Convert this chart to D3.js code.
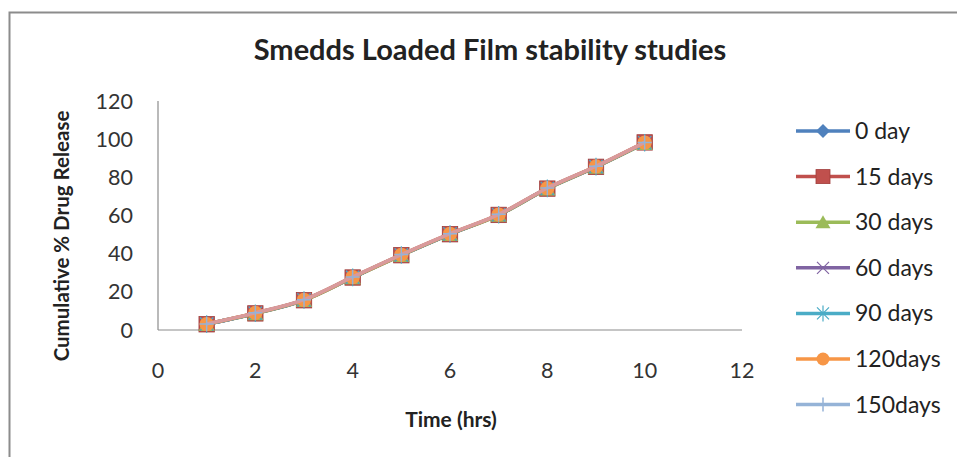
<!DOCTYPE html>
<html>
<head>
<meta charset="utf-8">
<script src="https://cdn.jsdelivr.net/npm/d3@7"></script>
<style>
  html, body { margin: 0; padding: 0; background: #fff; }
  svg { display: block; }
  text { font-family: Lato, "Liberation Sans", sans-serif; }
</style>
</head>
<body>
<svg id="chart" width="957" height="457"></svg>
<script>
// Sampling times (hrs)
const hours = [1, 2, 3, 4, 5, 6, 7, 8, 9, 10];

// Cumulative % drug release at each storage interval
const release0 = [3.1, 8.8, 15.8, 27.6, 39.3, 50.3, 60.4, 74.2, 85.6, 98.0];
const release15 = [3.0, 8.7, 15.6, 27.5, 39.2, 50.2, 60.3, 74.1, 85.5, 98.3];
const release30 = [3.0, 8.6, 15.5, 27.4, 39.1, 50.1, 60.2, 74.0, 85.4, 97.8];
const release60 = [3.1, 8.8, 15.7, 27.6, 39.3, 50.3, 60.4, 74.2, 85.6, 98.1];
const release90 = [3.1, 8.8, 15.7, 27.6, 39.3, 50.3, 60.4, 74.2, 85.6, 98.1];
const release120 = [3.1, 8.9, 15.8, 27.7, 39.4, 50.4, 60.5, 74.3, 85.7, 98.2];
const release150 = [3.2, 9.0, 15.9, 27.8, 39.5, 50.5, 60.6, 74.4, 85.8, 98.3];

const seriesNames = ["0 day", "15 days", "30 days", "60 days", "90 days", "120days", "150days"];
const seriesValues = [release0, release15, release30, release60, release90, release120, release150];
const seriesColors = ["#4f81bd", "#c0504d", "#9bbb59", "#8064a2", "#4bacc6", "#f79646", "#95b3d7"];
const seriesMarkers = ["diamond", "square", "triangle", "x", "star", "circle", "plus"];

const xTicks = [0, 2, 4, 6, 8, 10, 12];
const yTicks = [0, 20, 40, 60, 80, 100, 120];

const svg = d3.select("#chart");

// outer chart frame
svg.append("rect")
  .attr("x", 9.5).attr("y", 12.5)
  .attr("width", 960).attr("height", 460)
  .attr("fill", "#fff")
  .attr("stroke", "#8c8c8c").attr("stroke-width", 2);

const x = d3.scaleLinear().domain([0, 12]).range([158, 742]);
const y = d3.scaleLinear().domain([0, 120]).range([330, 101]);

// axis lines
svg.append("line")
  .attr("x1", x(0)).attr("x2", x(12)).attr("y1", y(0)).attr("y2", y(0))
  .attr("stroke", "#8c8c8c").attr("stroke-width", 1.2);
svg.append("line")
  .attr("x1", x(0)).attr("x2", x(0)).attr("y1", y(0)).attr("y2", y(120))
  .attr("stroke", "#8c8c8c").attr("stroke-width", 1.2);

// y tick labels
svg.append("g").selectAll("text").data(yTicks).join("text")
  .attr("x", 133).attr("y", d => y(d))
  .attr("dy", "0.35em")
  .attr("text-anchor", "end")
  .attr("font-size", 21.5)
  .attr("fill", "#333")
  .text(d => d);

// x tick labels
svg.append("g").selectAll("text").data(xTicks).join("text")
  .attr("x", d => x(d)).attr("y", 370)
  .attr("dy", "0.35em")
  .attr("text-anchor", "middle")
  .attr("font-size", 21.5)
  .attr("fill", "#333")
  .text(d => d);

// titles
svg.append("text")
  .attr("x", 490).attr("y", 50).attr("dy", "0.35em")
  .attr("text-anchor", "middle")
  .attr("font-size", 29).attr("font-weight", "bold")
  .attr("fill", "#222")
  .text("Smedds Loaded Film stability studies");

svg.append("text")
  .attr("transform", "translate(62,236) rotate(-90)")
  .attr("dy", "0.35em")
  .attr("text-anchor", "middle")
  .attr("font-size", 20.5).attr("font-weight", "bold")
  .attr("fill", "#222")
  .text("Cumulative % Drug Release");

svg.append("text")
  .attr("x", 451).attr("y", 420).attr("dy", "0.35em")
  .attr("text-anchor", "middle")
  .attr("font-size", 21).attr("font-weight", "bold")
  .attr("fill", "#222")
  .text("Time (hrs)");

// marker drawing
function drawMarker(g, type, color, cx, cy, scale) {
  const s = scale || 1;
  switch (type) {
    case "diamond":
      g.append("path")
        .attr("d", `M${cx},${cy - 7 * s}L${cx + 7 * s},${cy}L${cx},${cy + 7 * s}L${cx - 7 * s},${cy}Z`)
        .attr("fill", color);
      break;
    case "square":
      g.append("rect")
        .attr("x", cx - 7 * s).attr("y", cy - 7 * s)
        .attr("width", 14 * s).attr("height", 14 * s)
        .attr("fill", color).attr("stroke", "#a03c3a").attr("stroke-width", 0.8);
      break;
    case "triangle":
      g.append("path")
        .attr("d", `M${cx},${cy - 7 * s}L${cx + 7.5 * s},${cy + 6 * s}L${cx - 7.5 * s},${cy + 6 * s}Z`)
        .attr("fill", color);
      break;
    case "x":
      g.append("path")
        .attr("d", `M${cx - 6 * s},${cy - 6 * s}L${cx + 6 * s},${cy + 6 * s}M${cx + 6 * s},${cy - 6 * s}L${cx - 6 * s},${cy + 6 * s}`)
        .attr("stroke", color).attr("stroke-width", 1.2).attr("fill", "none");
      break;
    case "star":
      g.append("path")
        .attr("d", `M${cx - 6 * s},${cy - 6 * s}L${cx + 6 * s},${cy + 6 * s}M${cx + 6 * s},${cy - 6 * s}L${cx - 6 * s},${cy + 6 * s}M${cx},${cy - 8 * s}L${cx},${cy + 8 * s}`)
        .attr("stroke", color).attr("stroke-width", 1.2).attr("fill", "none");
      break;
    case "circle":
      g.append("circle")
        .attr("cx", cx).attr("cy", cy).attr("r", 6.5 * s)
        .attr("fill", color);
      break;
    case "plus":
      g.append("path")
        .attr("d", `M${cx - 7 * s},${cy}L${cx + 7 * s},${cy}M${cx},${cy - 7 * s}L${cx},${cy + 7 * s}`)
        .attr("stroke", color).attr("stroke-width", 1.5).attr("fill", "none");
      break;
  }
}

const line = d3.line()
  .x((d, i) => x(hours[i]))
  .y(d => y(d))
  .curve(d3.curveMonotoneX);

const plot = svg.append("g");

// series lines and markers
seriesValues.forEach((vals, k) => {
  if (seriesMarkers[k] === "plus") return;
  plot.append("path")
    .datum(vals)
    .attr("d", line)
    .attr("fill", "none")
    .attr("stroke", seriesColors[k])
    .attr("stroke-width", 3.5);
  const mg = plot.append("g");
  vals.forEach((v, i) => drawMarker(mg, seriesMarkers[k], seriesColors[k], x(hours[i]), y(v), 1.1));
});

// last series on top: light line plus cross markers
const lastK = seriesValues.length - 1;
plot.append("path")
  .datum(seriesValues[lastK])
  .attr("d", line)
  .attr("fill", "none")
  .attr("stroke", "#d99a9c")
  .attr("stroke-width", 3.5);
const lg = plot.append("g");
seriesValues[lastK].forEach((v, i) => drawMarker(lg, "plus", seriesColors[lastK], x(hours[i]), y(v), 1));

// legend
const legend = svg.append("g");
const legY0 = 131, legStep = 45.6;
seriesNames.forEach((name, k) => {
  const ly = legY0 + k * legStep;
  legend.append("line")
    .attr("x1", 796).attr("x2", 850).attr("y1", ly).attr("y2", ly)
    .attr("stroke", seriesColors[k]).attr("stroke-width", 3.5);
  drawMarker(legend, seriesMarkers[k], seriesColors[k], 823, ly, 1);
  legend.append("text")
    .attr("x", 855).attr("y", ly).attr("dy", "0.35em")
    .attr("font-size", 23)
    .attr("fill", "#222")
    .text(name);
});
</script>
</body>
</html>
